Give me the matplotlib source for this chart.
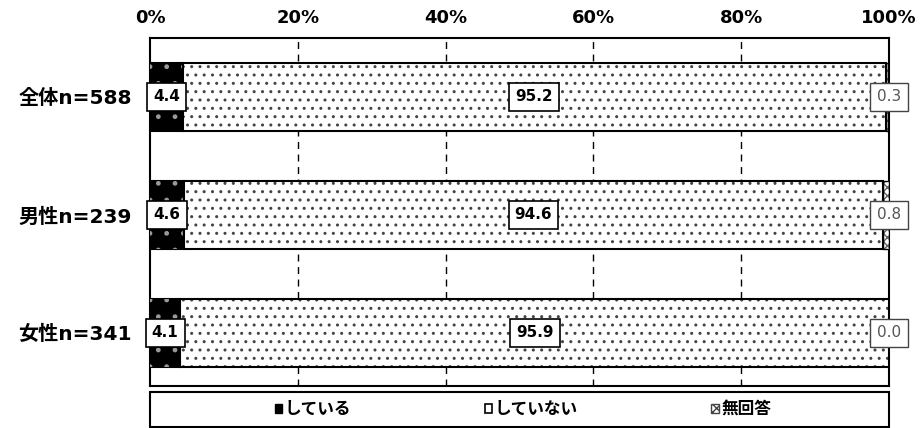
import matplotlib
matplotlib.use("Agg")
import matplotlib.pyplot as plt
from matplotlib.patches import Patch, Rectangle
import numpy as np

plt.rcParams['font.family'] = ['DejaVu Sans', 'Noto Sans CJK JP']
plt.rcParams['hatch.linewidth'] = 1.0

categories = ["全体n=588", "男性n=239", "女性n=341"]
series_names = ["している", "していない", "無回答"]
doing = [4.4, 4.6, 4.1]
not_doing = [95.2, 94.6, 95.9]
no_answer = [0.3, 0.8, 0.0]
xticks = [0, 20, 40, 60, 80, 100]

fig = plt.figure(figsize=(9.22, 4.28), dpi=100)
ax = fig.add_axes([150 / 922, 1 - 386 / 428, 739 / 922, 348 / 428])

y = np.arange(len(categories))
h = 0.57

# している: black with grey dots
ax.barh(y, doing, height=h, color="black", edgecolor="black", linewidth=1.5, zorder=3)
ax.barh(y, doing, height=h, color="none", edgecolor="#9a9a9a", hatch=".", linewidth=0, zorder=4)

# していない: white with dots
left2 = np.array(doing)
ax.barh(y, not_doing, left=left2, height=h, color="white", edgecolor="#444444",
        hatch="..", linewidth=0, zorder=3)
ax.barh(y, not_doing, left=left2, height=h, color="none", edgecolor="black",
        linewidth=1.5, zorder=4)

# 無回答: hatched grey
left3 = left2 + np.array(not_doing)
ax.barh(y, no_answer, left=left3, height=h, color="white", edgecolor="#666666",
        hatch="xxxx", linewidth=0, zorder=3)
ax.barh(y, no_answer, left=left3, height=h, color="none", edgecolor="black",
        linewidth=1.0, zorder=4)

box_dark = dict(boxstyle="square,pad=0.4", facecolor="white", edgecolor="black", linewidth=1.2)
box_grey = dict(boxstyle="square,pad=0.45", facecolor="white", edgecolor="#444444", linewidth=1.0)
for i in range(len(categories)):
    ax.text(doing[i] / 2, y[i], f"{doing[i]:.1f}", ha="center", va="center",
            fontsize=11, fontweight="bold", bbox=box_dark, zorder=6)
    ax.text(left2[i] + not_doing[i] / 2, y[i], f"{not_doing[i]:.1f}", ha="center",
            va="center", fontsize=11, fontweight="bold", bbox=box_dark, zorder=6)
    ax.text(100, y[i], f"{no_answer[i]:.1f}", ha="center", va="center",
            fontsize=11, color="#555555", bbox=box_grey, zorder=6, clip_on=False)

ax.set_xlim(0, 100)
ax.set_ylim(2.45, -0.5)
ax.set_xticks(xticks)
ax.set_xticklabels([f"{t}%" for t in xticks], fontsize=13, fontweight="bold")
ax.xaxis.tick_top()
ax.set_yticks(y)
ax.set_yticklabels(categories, fontsize=14.5, fontweight="bold")
ax.tick_params(axis="both", length=0)
ax.tick_params(axis="y", pad=13)
ax.tick_params(axis="x", pad=8)

for t in xticks[1:-1]:
    ax.axvline(t, color="black", linestyle=(0, (5, 4)), linewidth=1.0, zorder=1)

for s in ax.spines.values():
    s.set_linewidth(1.5)
    s.set_color("black")

# legend box under the plot
fig.add_artist(Rectangle((150 / 922, 1 - 427 / 428), 739 / 922, 35 / 428,
                         transform=fig.transFigure, facecolor="white",
                         edgecolor="black", linewidth=1.5))
handles = [
    Patch(facecolor="black", edgecolor="black"),
    Patch(facecolor="white", edgecolor="black", linewidth=1.2),
    Patch(facecolor="white", edgecolor="#444444", hatch="xxxx"),
]
fig.legend(handles, series_names, loc="center",
           bbox_to_anchor=(523 / 922, 1 - 409 / 428),
           ncol=3, frameon=False, columnspacing=8,
           handlelength=0.45, handleheight=0.45, handletextpad=0.15,
           prop={"size": 12, "weight": "bold"})

fig.savefig("out.png", dpi=100)
